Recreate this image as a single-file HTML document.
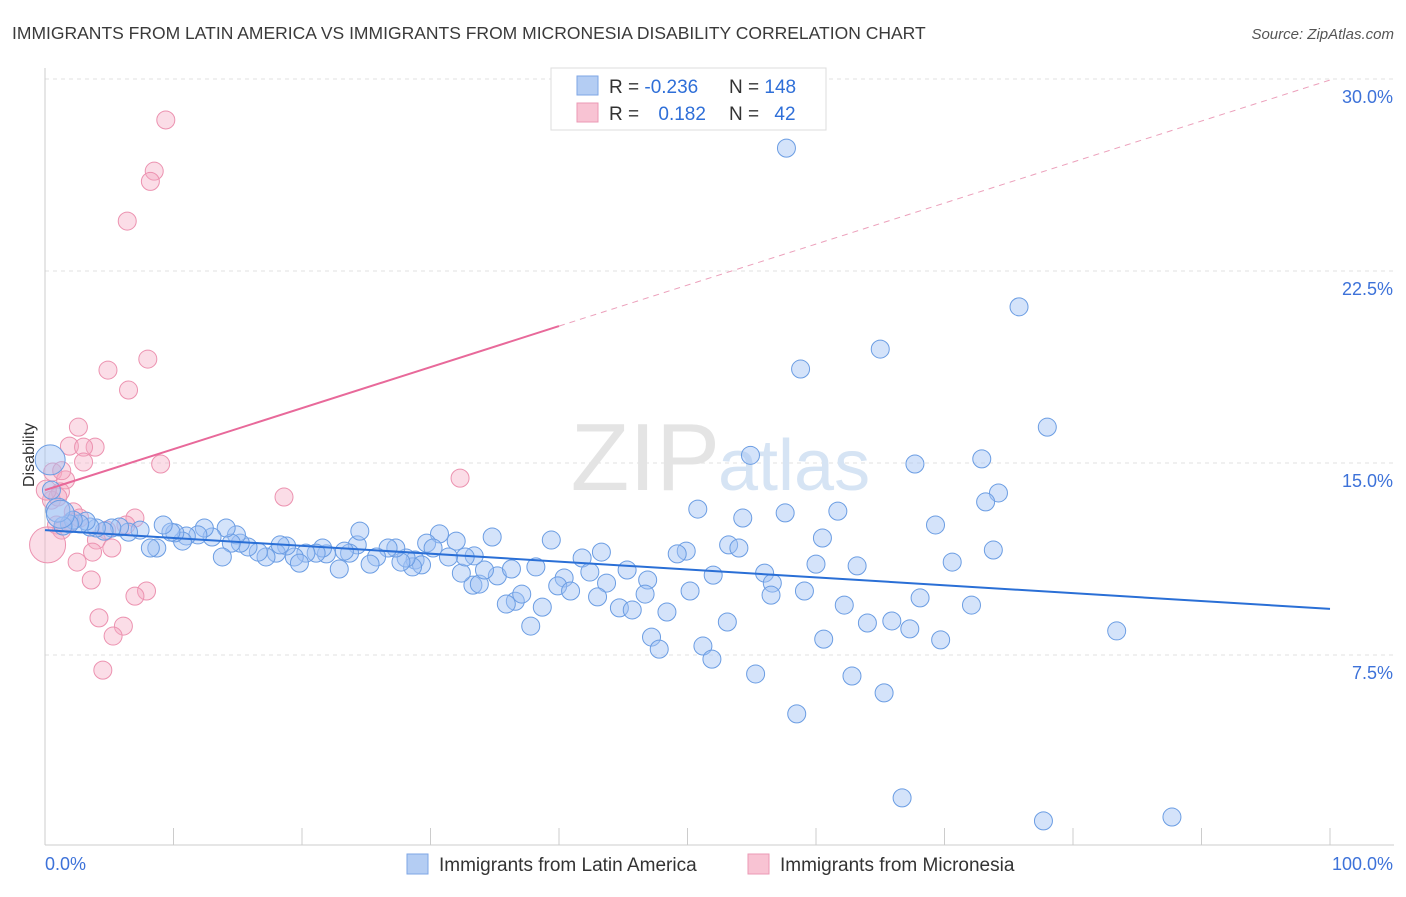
<!DOCTYPE html>
<html><head><meta charset="utf-8"><style>
body{margin:0;background:#fff;font-family:"Liberation Sans",sans-serif;}
svg text{font-family:"Liberation Sans",sans-serif;}
</style></head><body>
<svg width="1406" height="892" viewBox="0 0 1406 892">
<text x="12" y="39" font-size="17.5" fill="#3a3a3a">IMMIGRANTS FROM LATIN AMERICA VS IMMIGRANTS FROM MICRONESIA DISABILITY CORRELATION CHART</text>
<text x="1394" y="39" font-size="15" fill="#555" font-style="italic" text-anchor="end">Source: ZipAtlas.com</text>
<g id="grid"></g>
<text x="720" y="490" font-size="96" fill="#e4e4e4" text-anchor="end" font-family="Liberation Serif">ZIP</text>
<text x="718" y="490" font-size="72" fill="#d6e4f4">atlas</text>
<g id="axes"></g>
<g id="pts"></g>
<g id="trends"></g>
<text transform="translate(34,455) rotate(-90)" font-size="16" fill="#333" text-anchor="middle">Disability</text>
<g>
<rect x="551" y="68" width="275" height="62" fill="#fff" stroke="#ddd"/>
<rect x="577" y="76" width="21" height="19" fill="#b4cdf3" stroke="#7ea6e6"/>
<rect x="577" y="103" width="21" height="19" fill="#f8c3d3" stroke="#eb9ab4"/>
<text x="609" y="93" font-size="19" fill="#333">R = <tspan fill="#2f6fd8">-0.236</tspan></text>
<text x="729" y="93" font-size="19" fill="#333">N = <tspan fill="#2f6fd8">148</tspan></text>
<text x="609" y="120" font-size="19" fill="#333">R = <tspan fill="#2f6fd8" dx="14">0.182</tspan></text>
<text x="729" y="120" font-size="19" fill="#333">N = <tspan fill="#2f6fd8" dx="10">42</tspan></text>
</g>
<g>
<rect x="407" y="854" width="21" height="20" fill="#b4cdf3" stroke="#7ea6e6"/>
<text x="439" y="871" font-size="19" fill="#333">Immigrants from Latin America</text>
<rect x="748" y="854" width="21" height="20" fill="#f8c3d3" stroke="#eb9ab4"/>
<text x="780" y="871" font-size="19" fill="#333">Immigrants from Micronesia</text>
</g>
</svg>
<script>
const yTicks=[7.5,15,22.5,30];
const yTickLabels=["7.5%","15.0%","22.5%","30.0%"];
const xTickLabels=["0.0%","100.0%"];
const blueX=[57.7,75.8,65.0,58.8,78.0,54.9,67.7,72.9,74.2,73.2,50.8,54.3,57.6,61.7,69.3,60.5,53.2,54.0,49.9,49.2,73.8,70.6,60.0,63.2,52.0,56.0,56.6,45.3,43.3,41.8,39.4,34.8,30.7,32.0,29.7,28.8,46.9,43.7,42.4,40.4,38.2,39.9,43.0,40.9,46.7,50.2,56.5,59.1,68.1,72.1,62.2,44.7,45.7,48.4,53.1,64.0,65.9,67.3,69.7,60.6,47.2,47.8,51.2,51.9,55.3,62.8,65.3,58.5,66.7,77.7,87.7,83.4,37.8,36.6,35.9,37.1,38.7,33.3,33.8,35.2,34.2,36.3,32.4,33.4,32.7,31.4,30.2,29.3,28.6,28.1,27.7,27.3,26.7,25.8,25.3,24.3,23.7,23.3,22.9,21.9,21.6,21.1,20.3,19.4,19.8,18.8,18.0,17.2,16.6,15.8,15.2,14.9,14.5,14.1,13.0,12.4,11.9,11.0,10.7,10.1,9.8,9.2,8.7,8.2,7.4,6.5,5.8,5.2,4.6,4.0,3.5,3.2,2.7,2.2,1.9,1.4,1.0,0.4,0.5,13.8,24.5,18.3];
const blueY=[27.3,21.1,19.45,18.67,16.4,15.3,14.96,15.16,13.83,13.48,13.2,12.85,13.05,13.12,12.58,12.07,11.8,11.68,11.56,11.45,11.6,11.13,11.05,10.98,10.62,10.7,10.31,10.82,11.52,11.29,11.99,12.11,12.23,11.95,11.87,11.21,10.43,10.31,10.74,10.51,10.94,10.2,9.77,10.0,9.88,10.0,9.84,10.0,9.73,9.45,9.45,9.34,9.26,9.18,8.79,8.75,8.83,8.52,8.09,8.12,8.2,7.73,7.85,7.34,6.76,6.68,6.02,5.2,1.92,1.02,1.17,8.44,8.63,9.6,9.49,9.88,9.37,10.23,10.27,10.59,10.82,10.86,10.7,11.37,11.33,11.33,11.68,11.02,10.94,11.29,11.13,11.68,11.68,11.33,11.05,11.8,11.48,11.56,10.86,11.45,11.68,11.48,11.48,11.33,11.09,11.76,11.48,11.33,11.52,11.72,11.87,12.19,11.87,12.46,12.11,12.46,12.19,12.15,11.95,12.27,12.3,12.58,11.68,11.68,12.38,12.3,12.5,12.46,12.34,12.46,12.5,12.73,12.62,12.77,12.62,12.54,13.16,15.12,13.94,11.33,12.34,11.8];
const pinkX=[9.4,8.5,8.2,6.4,8.0,4.9,6.5,2.6,1.9,3.9,3.0,3.0,9.0,32.3,18.6,0.6,1.6,1.2,0.5,1.0,2.2,2.7,2.0,0.9,1.3,7.0,6.3,4.8,4.0,5.2,3.7,2.5,7.9,7.0,3.6,4.2,6.1,5.3,4.5,0.2,0.1,1.3];
const pinkY=[28.4,26.4,26.0,24.45,19.06,18.63,17.85,16.4,15.66,15.62,15.62,15.04,14.96,14.41,13.67,14.65,14.34,13.87,13.55,13.67,13.09,12.85,12.7,12.58,12.38,12.85,12.58,12.38,11.99,11.68,11.52,11.13,10.0,9.8,10.43,8.95,8.63,8.24,6.91,11.8,13.94,14.7];
const blueTrend=[12.38,9.3];
const pinkTrend=[13.94,29.96];
const NS="http://www.w3.org/2000/svg";
const X=v=>45+v*12.85, Y=v=>655-(v-7.5)*25.6;
function mk(tag,attrs,parent){const e=document.createElementNS(NS,tag);for(const k in attrs)e.setAttribute(k,attrs[k]);document.getElementById(parent).appendChild(e);return e;}
yTicks.forEach((t,i)=>{
 const g=mk('line',{x1:45,x2:1394,y1:Y(t),y2:Y(t),stroke:'#e2e2e2','stroke-dasharray':'4,4'},'grid');
 
 
 const tx=mk('text',{x:1393,y:Y(t)+24,'font-size':18,fill:'#3d72d9','text-anchor':'end'},'axes');
 tx.textContent=yTickLabels[i];
 
 
});
const ax=mk('line',{x1:45,x2:45,y1:68,y2:845,stroke:'#ccc'},'axes');


const bx=mk('line',{x1:45,x2:1394,y1:845,y2:845,stroke:'#ccc'},'axes');


for(let i=0;i<=10;i++){
 const t=mk('line',{x1:X(i*10),x2:X(i*10),y1:828,y2:845,stroke:'#ccc'},'axes');
 
 
}
const xl0=mk('text',{x:45,y:870,'font-size':18,fill:'#3d72d9'},'axes');xl0.textContent=xTickLabels[0];


const xl1=mk('text',{x:1393,y:870,'font-size':18,fill:'#3d72d9','text-anchor':'end'},'axes');xl1.textContent=xTickLabels[1];


pinkX.forEach((x,i)=>{
 const r=(i===39)?18:(i===40?10:9);
 const c=mk('circle',{cx:X(x),cy:Y(pinkY[i]),r:r,fill:'rgba(246,170,196,0.4)',stroke:'#ec92b0','stroke-width':1},'pts');
 
 
});
blueX.forEach((x,i)=>{
 const r=(i===137)?15:(i===136?12:9);
 const c=mk('circle',{cx:X(x),cy:Y(blueY[i]),r:r,fill:'rgba(160,192,244,0.45)',stroke:'#6b9de3','stroke-width':1},'pts');
 
 
});
const big=mk('circle',{cx:X(1.2),cy:Y(13.0),r:14,fill:'rgba(160,192,244,0.45)',stroke:'#6b9de3'},'pts');


const bl=mk('line',{x1:X(0),y1:Y(blueTrend[0]),x2:X(100),y2:Y(blueTrend[1]),stroke:'#2a6fd6','stroke-width':2},'trends');


const py=x=>pinkTrend[0]+(pinkTrend[1]-pinkTrend[0])*x/100;
const pl=mk('line',{x1:X(0),y1:Y(py(0)),x2:X(40),y2:Y(py(40)),stroke:'#e8699a','stroke-width':2},'trends');


const pd=mk('line',{x1:X(40),y1:Y(py(40)),x2:X(100),y2:Y(py(100)),stroke:'#eca0bb','stroke-width':1,'stroke-dasharray':'6,5'},'trends');


</script>
</body></html>
